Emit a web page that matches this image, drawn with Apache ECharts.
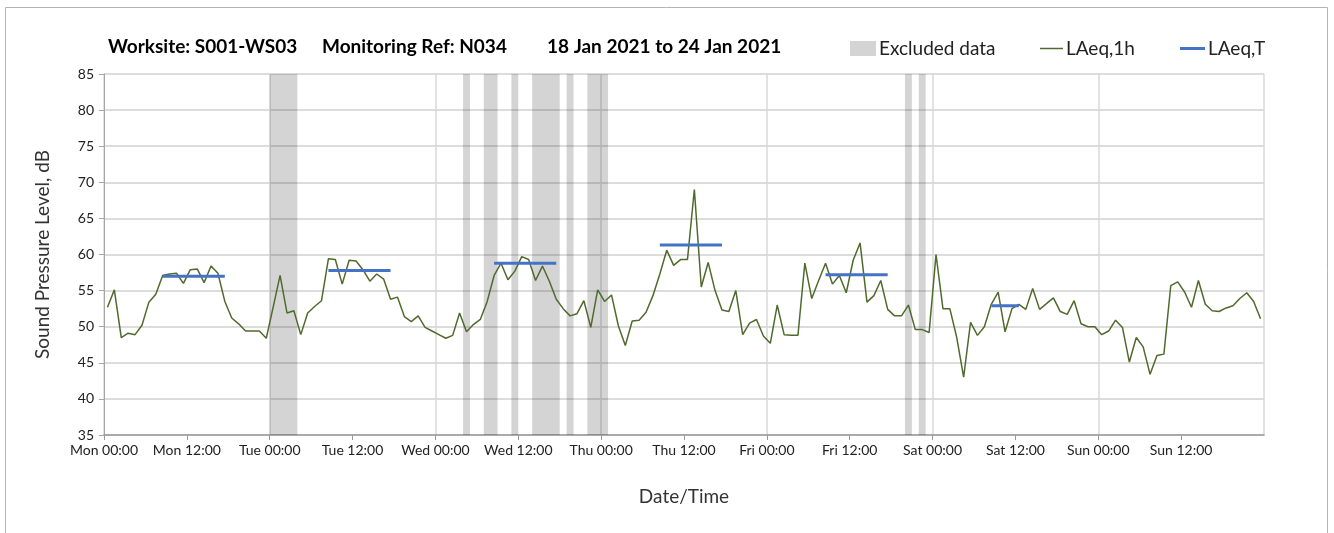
<!DOCTYPE html>
<html>
<head>
<meta charset="utf-8">
<script src="https://cdn.jsdelivr.net/npm/echarts@6/dist/echarts.min.js"></script>
<style>
  html, body { margin: 0; padding: 0; background: #fff; }
  #container { width: 1334px; height: 533px; }
</style>
</head>
<body>
<div id="container"></div>
<script>
var dom = document.getElementById('container');
var myChart = echarts.init(dom, null, {
    renderer: 'canvas',
    useDirtyRect: false
});

// hourly LAeq,1h values, Mon 00:00 .. Sun 23:00
var laeq1h = [
    52.7, 55.1, 48.5, 49.1, 48.9, 50.2, 53.4, 54.5, 57.1, 57.3, 57.4, 56.0, 57.9, 58.0, 56.1, 58.4, 57.4, 53.5, 51.2, 50.4, 49.4, 49.4, 49.4, 48.4,
    52.7, 57.1, 51.9, 52.2, 48.9, 51.9, 52.8, 53.6, 59.4, 59.3, 55.9, 59.2, 59.1, 57.9, 56.3, 57.3, 56.6, 53.8, 54.1, 51.4, 50.7, 51.5, 49.9, 49.4,
    48.9, 48.4, 48.8, 51.9, 49.3, 50.3, 51.0, 53.5, 57.1, 58.8, 56.5, 57.7, 59.7, 59.3, 56.4, 58.4, 56.3, 53.8, 52.5, 51.5, 51.8, 53.6, 49.9, 55.1,
    53.5, 54.4, 50.1, 47.4, 50.8, 50.9, 52.0, 54.3, 57.3, 60.6, 58.5, 59.3, 59.3, 69.0, 55.5, 58.9, 55.0, 52.3, 52.1, 55.0, 48.9, 50.5, 51.0, 48.7,
    47.7, 53.0, 48.9, 48.8, 48.8, 58.8, 53.9, 56.4, 58.8, 55.9, 57.1, 54.7, 59.2, 61.6, 53.4, 54.3, 56.4, 52.4, 51.5, 51.5, 53.0, 49.6, 49.6, 49.2,
    60.0, 52.5, 52.5, 48.5, 43.0, 50.6, 48.8, 50.0, 53.1, 54.8, 49.3, 52.5, 53.1, 52.4, 55.3, 52.4, 53.2, 54.0, 52.1, 51.7, 53.6, 50.4, 50.0, 50.0,
    48.9, 49.4, 50.9, 49.9, 45.1, 48.5, 47.2, 43.4, 46.0, 46.2, 55.7, 56.2, 54.8, 52.7, 56.4, 53.1, 52.2, 52.1, 52.6, 52.9, 53.9, 54.7, 53.5, 51.1
];

// LAeq,T periods (hour from Mon 00:00) and levels
var periodStart = [8, 32, 56, 80, 104, 128];
var periodEnd = [18, 42, 66, 90, 114, 133];
var laeqT = [57.0, 57.8, 58.8, 61.3, 57.2, 52.9];

// excluded data windows (hour from Mon 00:00)
var excludedStart = [24, 52, 55, 59, 62, 67, 70, 116, 118];
var excludedEnd = [28, 53, 57, 60, 66, 68, 73, 117, 119];

var dayNames = ['Mon', 'Tue', 'Wed', 'Thu', 'Fri', 'Sat', 'Sun'];

var font = 'Lato';
var green = '#4f6a2c';
var blue = '#4472c4';
var grey = '#d4d4d4';

var excludedAreas = excludedStart.map(function (s, i) {
    return [{ xAxis: s }, { xAxis: excludedEnd[i] }];
});

var series = [
    {
        name: 'Excluded data',
        type: 'line',
        data: [],
        symbol: 'none',
        itemStyle: { color: grey },
        lineStyle: { color: grey },
        markArea: {
            silent: true,
            itemStyle: { color: 'rgba(0,0,0,0.17)' },
            data: excludedAreas
        }
    },
    {
        name: 'LAeq,1h',
        type: 'line',
        data: laeq1h.map(function (v, i) { return [i + 0.5, v]; }),
        symbol: 'none',
        itemStyle: { color: green },
        lineStyle: { color: green, width: 1.5 },
        z: 3
    }
];

laeqT.forEach(function (v, i) {
    series.push({
        name: 'LAeq,T',
        type: 'line',
        data: [[periodStart[i] + 0.5, v], [periodEnd[i] - 0.5, v]],
        symbol: 'none',
        itemStyle: { color: blue },
        lineStyle: { color: blue, width: 3 },
        z: 4
    });
});

var legendText = { fontFamily: font, fontSize: 19, color: '#222', padding: [0, 0, 0, -2] };

var option = {
    animation: false,
    title: [
        { text: 'Worksite: S001-WS03', left: 103, top: 32 },
        { text: 'Monitoring Ref: N034', left: 317, top: 32 },
        { text: '18 Jan 2021 to 24 Jan 2021', left: 542, top: 32 }
    ].map(function (t) {
        t.textStyle = { fontFamily: font, fontSize: 19, fontWeight: 'bold', color: '#000' };
        return t;
    }),
    legend: [
        {
            left: 845,
            top: 34,
            itemWidth: 26,
            itemHeight: 15,
            textStyle: legendText,
            data: [{ name: 'Excluded data', icon: 'rect', itemStyle: { color: grey } }]
        },
        {
            left: 1035,
            top: 34,
            itemWidth: 23,
            itemHeight: 1.5,
            textStyle: legendText,
            data: [{ name: 'LAeq,1h', icon: 'rect', itemStyle: { color: green } }]
        },
        {
            left: 1175,
            top: 34,
            itemWidth: 25,
            itemHeight: 3,
            textStyle: legendText,
            data: [{ name: 'LAeq,T', icon: 'rect', itemStyle: { color: blue } }]
        }
    ],
    grid: {
        left: 104,
        right: 70,
        top: 74,
        bottom: 98
    },
    xAxis: [
        {
            type: 'value',
            min: 0,
            max: 168,
            interval: 12,
            name: 'Date/Time',
            nameLocation: 'middle',
            nameGap: 52,
            nameTextStyle: { fontFamily: font, fontSize: 19, color: '#333' },
            axisLine: { onZero: false, lineStyle: { color: '#999', width: 1.5 } },
            axisTick: { length: 5, lineStyle: { color: '#999' } },
            axisLabel: {
                fontFamily: font,
                fontSize: 14,
                color: '#222',
                margin: 8,
                showMaxLabel: false,
                formatter: function (v) {
                    if (v >= 168) return '';
                    return dayNames[Math.floor(v / 24)] + (v % 24 === 0 ? ' 00:00' : ' 12:00');
                }
            },
            splitLine: { show: false }
        },
        {
            type: 'value',
            min: 0,
            max: 168,
            interval: 24,
            position: 'bottom',
            axisLine: { show: false },
            axisTick: { show: false },
            axisLabel: { show: false },
            splitLine: { show: true, lineStyle: { color: '#d9d9d9', width: 1.5 } }
        }
    ],
    yAxis: {
        type: 'value',
        min: 35,
        max: 85,
        interval: 5,
        name: 'Sound Pressure Level, dB',
        nameLocation: 'middle',
        nameGap: 52,
        nameTextStyle: { fontFamily: font, fontSize: 19, color: '#333' },
        axisLine: { show: true, lineStyle: { color: '#a6a6a6' } },
        axisTick: { show: true, length: 5, lineStyle: { color: '#a6a6a6' } },
        axisLabel: { fontFamily: font, fontSize: 14, color: '#222', margin: 10 },
        splitLine: { lineStyle: { color: '#d0d0d0', width: 1.5 } }
    },
    graphic: [
        {
            type: 'rect',
            shape: { x: 5.5, y: 7.5, width: 1322, height: 540 },
            style: { fill: null, stroke: '#b4b4b4', lineWidth: 1 },
            silent: true
        }
    ],
    series: series
};

myChart.setOption(option);

window.addEventListener('resize', myChart.resize);
</script>
</body>
</html>
